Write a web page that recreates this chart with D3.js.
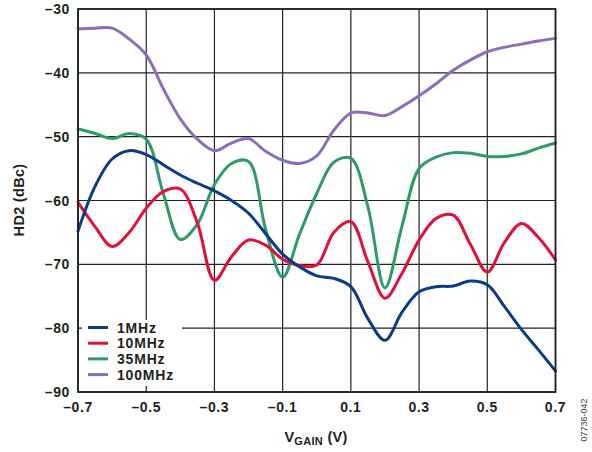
<!DOCTYPE html>
<html><head><meta charset="utf-8">
<script src="https://cdn.jsdelivr.net/npm/d3@7"></script>
<style>body{margin:0;background:#fff}svg{display:block}text{font-family:"Liberation Sans",Arial,sans-serif;font-weight:bold}</style>
</head><body><svg id="c" width="592" height="452"></svg>
<script>
const xValues = [-0.7,-0.65,-0.6,-0.55,-0.5,-0.45,-0.4,-0.35,-0.3,-0.25,-0.2,-0.15,-0.1,-0.05,0,0.05,0.1,0.15,0.2,0.25,0.3,0.35,0.4,0.45,0.5,0.55,0.6,0.65,0.7];
const s1MHz = [-64.8,-57.8,-53.5,-52.2,-52.8,-54.4,-56.0,-57.3,-58.5,-60.0,-62.0,-65.2,-68.4,-70.4,-71.8,-72.2,-73.5,-78.5,-81.9,-77.5,-74.3,-73.5,-73.4,-72.6,-73.2,-76.6,-80.2,-83.4,-86.7];
const s10MHz = [-60.3,-64.1,-67.2,-65.0,-61.2,-58.6,-58.2,-63.5,-72.5,-68.8,-66.2,-67.0,-69.2,-70.2,-70.1,-65.0,-63.3,-69.6,-75.3,-71.4,-66.2,-62.8,-62.3,-66.8,-71.2,-66.6,-63.6,-65.8,-69.3];
const s35MHz = [-48.8,-49.5,-50.3,-49.5,-50.4,-58.9,-66.1,-63.7,-57.5,-54.2,-53.9,-64.5,-72.0,-65.2,-58.9,-54.0,-53.4,-61.0,-73.7,-64.0,-55.0,-53.2,-52.5,-52.6,-53.1,-53.1,-52.7,-51.8,-51.0];
const s100MHz = [-33.1,-33.0,-33.0,-34.7,-37.2,-42.5,-47.2,-50.4,-52.2,-51.0,-50.3,-52.3,-53.7,-54.2,-53.0,-49.0,-46.3,-46.3,-46.7,-45.3,-43.6,-41.7,-39.6,-38.0,-36.7,-36.0,-35.5,-35.0,-34.6];
const seriesNames = ["1MHz","10MHz","35MHz","100MHz"];
const seriesColors = ["#0b3a86","#e0103a","#2f9a68","#8c6cbc"];
const xTicks = [-0.7,-0.5,-0.3,-0.1,0.1,0.3,0.5,0.7];
const xTickLabels = ["–0.7","–0.5","–0.3","–0.1","0.1","0.3","0.5","0.7"];
const yTicks = [-30,-40,-50,-60,-70,-80,-90];
const yTickLabels = ["–30","–40","–50","–60","–70","–80","–90"];

const svg = d3.select("#c");
const L=78, R=555.5, T=9, B=392;
const x = d3.scaleLinear().domain([-0.7,0.7]).range([L,R]);
const y = d3.scaleLinear().domain([-90,-30]).range([B,T]);

// grid
const g = svg.append("g");
g.selectAll(".vx").data(xTicks).enter().append("line")
 .attr("x1",d=>x(d)).attr("x2",d=>x(d)).attr("y1",T).attr("y2",B)
 .attr("stroke","#222").attr("stroke-width",1.2);
g.selectAll(".hy").data(yTicks).enter().append("line")
 .attr("x1",L).attr("x2",R).attr("y1",d=>y(d)).attr("y2",d=>y(d))
 .attr("stroke","#222").attr("stroke-width",1.2);

// legend background
svg.append("rect").attr("x",82).attr("y",320).attr("width",100).attr("height",66).attr("fill","#fff");

// lines
const all = [s1MHz,s10MHz,s35MHz,s100MHz];
const line = d3.line().x((d,i)=>x(xValues[i])).y(d=>y(d)).curve(d3.curveCatmullRom.alpha(0.5));
const order=[3,2,1,0];
order.forEach(k=>{
  svg.append("path").attr("d",line(all[k])).attr("fill","none")
   .attr("stroke",seriesColors[k]).attr("stroke-width",3).attr("stroke-linejoin","round").attr("stroke-linecap","round");
});

// frame
svg.append("rect").attr("x",L).attr("y",T).attr("width",R-L).attr("height",B-T)
 .attr("fill","none").attr("stroke","#222").attr("stroke-width",1.8);

// axes tick labels
svg.selectAll(".xl").data(xTicks).enter().append("text")
 .attr("x",d=>x(d)).attr("y",412).attr("text-anchor","middle").attr("font-size",14).attr("letter-spacing","0.6px").attr("fill","#231f20")
 .text((d,i)=>xTickLabels[i]);
svg.selectAll(".yl").data(yTicks).enter().append("text")
 .attr("x",70).attr("y",d=>y(d)+5).attr("text-anchor","end").attr("font-size",14).attr("letter-spacing","0.6px").attr("fill","#231f20")
 .text((d,i)=>yTickLabels[i]);

// axis titles
const xt = svg.append("text").attr("x",316).attr("y",442).attr("text-anchor","middle").attr("font-size",14.5).attr("letter-spacing","0.3px").attr("fill","#231f20");
xt.append("tspan").text("V");
xt.append("tspan").attr("font-size",11).attr("dy",3).text("GAIN");
xt.append("tspan").attr("dy",-3).text(" (V)");
svg.append("text").attr("transform","translate(24,200) rotate(-90)").attr("text-anchor","middle")
 .attr("font-size",14.5).attr("letter-spacing","0.3px").attr("fill","#231f20").text("HD2 (dBc)");

// legend
seriesNames.forEach((n,i)=>{
  const yy = 327.5 + i*15.7;
  svg.append("line").attr("x1",88).attr("x2",108).attr("y1",yy).attr("y2",yy)
   .attr("stroke",seriesColors[i]).attr("stroke-width",3);
  svg.append("text").attr("x",117).attr("y",yy+5).attr("font-size",14).attr("letter-spacing","0.8px").attr("fill","#231f20").text(n);
});

// figure id
svg.append("text").attr("transform","translate(587,420) rotate(-90)").attr("text-anchor","middle")
 .attr("font-size",9).attr("fill","#444").style("font-weight","normal").text("07736-042");
</script></body></html>
